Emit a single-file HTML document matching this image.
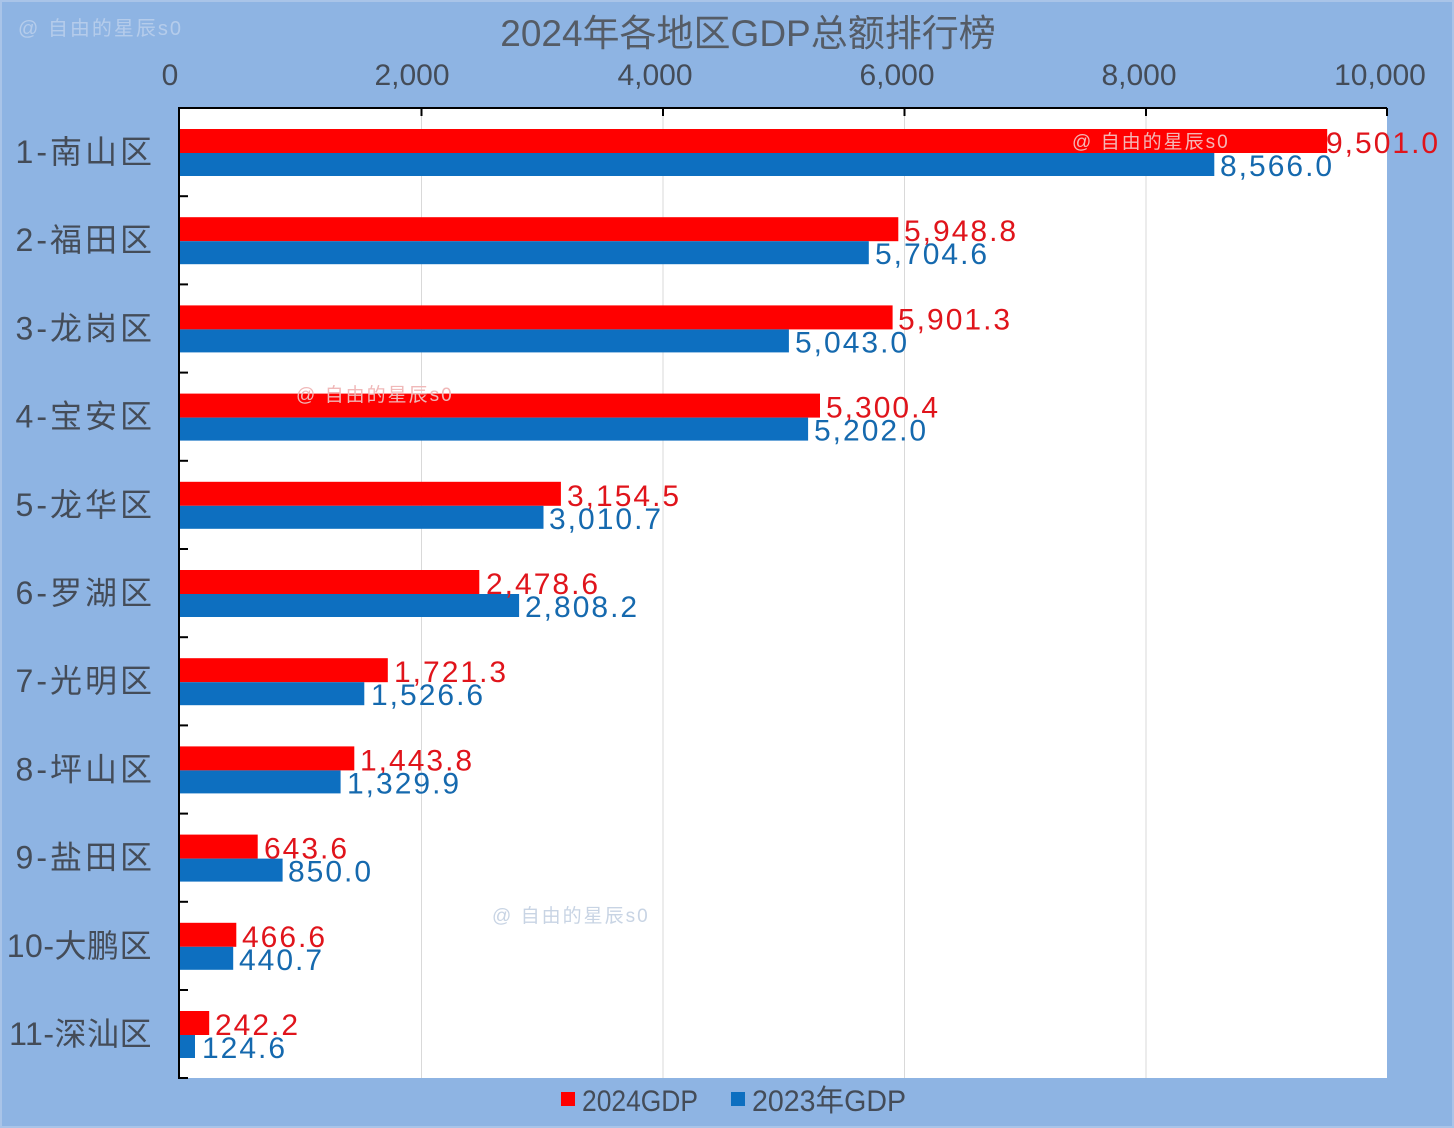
<!DOCTYPE html>
<html><head><meta charset="utf-8"><style>
html,body{margin:0;padding:0;background:#8EB4E3}
svg{display:block}
text{font-family:"Liberation Sans","Noto Sans CJK SC",sans-serif}
.r{fill:#E0141B;font-size:30px;letter-spacing:2px}
.b{fill:#1569AE;font-size:30px;letter-spacing:2px}
.c{fill:#444C58;font-size:32px;text-anchor:end;letter-spacing:3px}
.c2{fill:#444C58;font-size:32px;text-anchor:end;letter-spacing:0.5px}
.t{fill:#444C58;font-size:30px;text-anchor:middle}
</style></head><body>
<svg width="1454" height="1128" viewBox="0 0 1454 1128" xmlns="http://www.w3.org/2000/svg">
<rect x="0" y="0" width="1454" height="1128" fill="#8EB4E3"/>
<rect x="1" y="1" width="1452" height="1126" fill="none" stroke="#A9C4E8" stroke-width="2"/>
<text x="18" y="35" fill="#B5CCEB" font-size="20" style="letter-spacing:2px">@ 自由的星辰s0</text>
<text x="748" y="46" fill="#555C66" font-size="37" text-anchor="middle">2024年各地区GDP总额排行榜</text>
<rect x="180" y="108" width="1207" height="970" fill="#fff"/>
<g stroke="#D9D9D9" stroke-width="1">
<line x1="421.5" y1="108" x2="421.5" y2="1078"/><line x1="663" y1="108" x2="663" y2="1078"/>
<line x1="904.5" y1="108" x2="904.5" y2="1078"/><line x1="1146" y1="108" x2="1146" y2="1078"/>
</g>
<g stroke="#000" stroke-width="2" fill="none">
<line x1="179" y1="108" x2="1387" y2="108"/><line x1="179" y1="107" x2="179" y2="1079"/>
<line x1="1387" y1="108" x2="1387" y2="116"/><line x1="421.5" y1="108" x2="421.5" y2="116"/><line x1="663" y1="108" x2="663" y2="116"/><line x1="904.5" y1="108" x2="904.5" y2="116"/><line x1="1146" y1="108" x2="1146" y2="116"/>
<line x1="179" y1="196.2" x2="188" y2="196.2"/><line x1="179" y1="284.4" x2="188" y2="284.4"/><line x1="179" y1="372.6" x2="188" y2="372.6"/><line x1="179" y1="460.8" x2="188" y2="460.8"/><line x1="179" y1="549" x2="188" y2="549"/><line x1="179" y1="637.2" x2="188" y2="637.2"/><line x1="179" y1="725.4" x2="188" y2="725.4"/><line x1="179" y1="813.6" x2="188" y2="813.6"/><line x1="179" y1="901.8" x2="188" y2="901.8"/><line x1="179" y1="990" x2="188" y2="990"/><line x1="179" y1="1078" x2="188" y2="1078"/>
</g>
<text class="t" x="170" y="85">0</text><text class="t" x="412" y="85">2,000</text><text class="t" x="655" y="85">4,000</text><text class="t" x="897" y="85">6,000</text><text class="t" x="1139" y="85">8,000</text><text class="t" x="1380" y="85">10,000</text>

<g fill="#FF0000">
<rect x="180" y="129" width="1147.2" height="24"/>
<rect x="180" y="217.2" width="718.3" height="24"/>
<rect x="180" y="305.4" width="712.6" height="24"/>
<rect x="180" y="393.6" width="640" height="24"/>
<rect x="180" y="481.8" width="380.9" height="24"/>
<rect x="180" y="570" width="299.3" height="24"/>
<rect x="180" y="658.2" width="207.8" height="24"/>
<rect x="180" y="746.4" width="174.3" height="24"/>
<rect x="180" y="834.6" width="77.7" height="24"/>
<rect x="180" y="922.8" width="56.3" height="24"/>
<rect x="180" y="1011" width="29.2" height="24"/>
</g>
<g fill="#0D6FC0">
<rect x="180" y="153" width="1034.3" height="23"/>
<rect x="180" y="241.2" width="688.8" height="23"/>
<rect x="180" y="329.4" width="608.9" height="23"/>
<rect x="180" y="417.6" width="628.1" height="23"/>
<rect x="180" y="505.8" width="363.5" height="23"/>
<rect x="180" y="594" width="339.1" height="23"/>
<rect x="180" y="682.2" width="184.3" height="23"/>
<rect x="180" y="770.4" width="160.6" height="23"/>
<rect x="180" y="858.6" width="102.6" height="23"/>
<rect x="180" y="946.8" width="53.2" height="23"/>
<rect x="180" y="1035" width="15" height="23"/>
</g>
<text class="r" x="1326" y="153">9,501.0</text><text class="b" x="1220" y="176">8,566.0</text>
<text class="r" x="904" y="241.2">5,948.8</text><text class="b" x="875" y="264.2">5,704.6</text>
<text class="r" x="898" y="329.4">5,901.3</text><text class="b" x="795" y="352.4">5,043.0</text>
<text class="r" x="826" y="417.6">5,300.4</text><text class="b" x="814" y="440.6">5,202.0</text>
<text class="r" x="567" y="505.8">3,154.5</text><text class="b" x="549" y="528.8">3,010.7</text>
<text class="r" x="486" y="594">2,478.6</text><text class="b" x="525" y="617">2,808.2</text>
<text class="r" x="394" y="682.2">1,721.3</text><text class="b" x="371" y="705.2">1,526.6</text>
<text class="r" x="360" y="770.4">1,443.8</text><text class="b" x="347" y="793.4">1,329.9</text>
<text class="r" x="264" y="858.6">643.6</text><text class="b" x="288" y="881.6">850.0</text>
<text class="r" x="242" y="946.8">466.6</text><text class="b" x="239" y="969.8">440.7</text>
<text class="r" x="215" y="1035">242.2</text><text class="b" x="202" y="1058">124.6</text>

<text class="c" x="155" y="163">1-南山区</text>
<text class="c" x="155" y="251.2">2-福田区</text>
<text class="c" x="155" y="339.4">3-龙岗区</text>
<text class="c" x="155" y="427.6">4-宝安区</text>
<text class="c" x="155" y="515.8">5-龙华区</text>
<text class="c" x="155" y="604">6-罗湖区</text>
<text class="c" x="155" y="692.2">7-光明区</text>
<text class="c" x="155" y="780.4">8-坪山区</text>
<text class="c" x="155" y="868.6">9-盐田区</text>
<text class="c2" x="152" y="956.8">10-大鹏区</text>
<text class="c2" x="152" y="1045">11-深汕区</text>

<text x="1072" y="148" fill="#F4B6B6" font-size="19" style="letter-spacing:2px">@ 自由的星辰s0</text>
<text x="296" y="401" fill="#F0B8B8" font-size="19" style="letter-spacing:2px">@ 自由的星辰s0</text>
<text x="492" y="922" fill="#C8D4E4" font-size="19" style="letter-spacing:2px">@ 自由的星辰s0</text>

<rect x="561" y="1092" width="14" height="14" fill="#FF0000"/>
<text x="582" y="1111" fill="#444C58" font-size="30" textLength="116" lengthAdjust="spacingAndGlyphs">2024GDP</text>
<rect x="731" y="1092" width="14" height="14" fill="#0D6FC0"/>
<text x="752" y="1111" fill="#444C58" font-size="30" textLength="154" lengthAdjust="spacingAndGlyphs">2023年GDP</text>
</svg>
</body></html>
